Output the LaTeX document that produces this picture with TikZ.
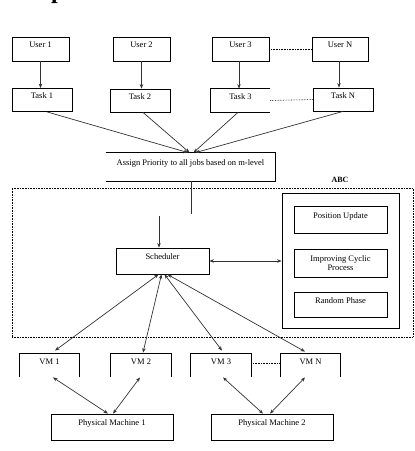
\documentclass[tikz,border=0pt]{standalone}
\usepackage{fontspec}
\setmainfont{Liberation Serif}
\usetikzlibrary{arrows.meta,calc}
\begin{document}
\begin{tikzpicture}[x=1pt,y=-1pt,
  box/.style={draw=black,line width=0.8pt,inner sep=0pt,font=\fontsize{8.5}{9.5}\selectfont,text height=6pt,text depth=9pt},
  openbox/.style={box,draw=none},
  edge/.style={draw=black!80,line width=0.7pt},
  arr/.style={edge,-{Stealth[length=4.5pt,width=3.5pt]}},
  darr/.style={edge,{Stealth[length=4.5pt,width=3.5pt]}-{Stealth[length=4.5pt,width=3.5pt]}},
  dots/.style={draw=black,line width=0.6pt,densely dotted},
]
\useasboundingbox (0,0) rectangle (415,451);

% cut-off title
\node[anchor=base west,inner sep=0pt,font=\bfseries\fontsize{24}{26}\selectfont] (title) at (14,-1.5) {Proposed Model};

% users
\node[box,minimum width=57pt,minimum height=24pt] (u1) at (40.5,49) {User 1};
\node[box,minimum width=57pt,minimum height=24pt] (u2) at (141.5,49) {User 2};
\node[box,minimum width=57pt,minimum height=24pt] (u3) at (240.5,49) {User 3};
\node[box,minimum width=56pt,minimum height=24pt] (uN) at (340,49) {User N};

% tasks
\node[box,minimum width=60pt,minimum height=23pt] (t1) at (42,100) {Task 1};
\node[box,minimum width=60pt,minimum height=23pt] (t2) at (140,100.5) {Task 2};
\node[openbox,minimum width=59pt,minimum height=23pt] (t3) at (240.5,100.5) {Task 3};
\draw[line width=0.8pt] (t3.north east) -- (t3.north west) -- (t3.south west) -- (t3.south east);
\node[box,minimum width=60pt,minimum height=23pt] (tN) at (343,99.5) {Task N};

% assign priority
\node[openbox,minimum width=169pt,minimum height=28pt] (assign) at (190.5,167) {Assign Priority to all jobs based on m-level};
\draw[line width=0.8pt] (assign.north west) -- (assign.north east) -- (assign.south east) -- (assign.south west);

% ABC region
\node[font=\bfseries\fontsize{8}{9}\selectfont,inner sep=0pt] (abclbl) at (340,180) {ABC};
\node[dots,minimum width=401pt,minimum height=149pt,inner sep=0pt] (abc) at (212.5,262.5) {};
\node[box,minimum width=117pt,minimum height=135pt] (inner) at (340.5,260.5) {};
\node[box,minimum width=93pt,minimum height=27pt] (pos) at (340.5,219.5) {Position Update};
\node[box,minimum width=93pt,minimum height=28pt,align=center,text height=,text depth=] (imp) at (340.5,263) {Improving Cyclic\\Process};
\node[box,minimum width=93pt,minimum height=25pt] (rnd) at (340.5,304.5) {Random Phase};

% scheduler
\node[box,minimum width=93pt,minimum height=26pt] (sched) at (162.5,261) {Scheduler};

% VMs
\foreach \n/\x/\w/\t in {vm1/49.5/59/VM 1, vm2/141/60/VM 2, vm3/221/60/VM 3, vmN/310.5/59/VM N}{
  \node[openbox,minimum width=\w pt,minimum height=23pt] (\n) at (\x,365.5) {\t};
  \draw[line width=0.8pt] (\n.south west) -- (\n.north west) -- (\n.north east) -- (\n.south east);
}

% physical machines
\node[box,minimum width=122pt,minimum height=26pt] (pm1) at (112,427) {Physical Machine 1};
\node[box,minimum width=122pt,minimum height=26pt] (pm2) at (272,427) {Physical Machine 2};

% users -> tasks
\draw[arr] (u1.south) -- (u1.south |- t1.north);
\draw[arr] (u2.south) -- (u2.south |- t2.north);
\draw[arr] ([xshift=-1.5pt]u3.south) -- ([xshift=-1.5pt]u3.south |- t3.north);
\draw[arr] ([xshift=-1pt]uN.south) -- ([xshift=-1pt]uN.south |- tN.north);

% dotted links
\draw[dots] (u3.east) -- (uN.west);
\draw[dots] (t3.east) -- (tN.west);
\draw[dots] ([yshift=2pt]vm3.east) -- ([yshift=2pt]vmN.west);

% tasks -> assign
\draw[arr] ([xshift=5pt]t1.south) -- ([xshift=-2.5pt]assign.north);
\draw[arr] ([xshift=3pt]t2.south) -- ([xshift=-1pt]assign.north);
\draw[arr] ([xshift=-2.5pt]t3.south) -- ([xshift=3pt]assign.north);
\draw[arr] (tN.south) -- ([xshift=5pt]assign.north);

% assign -> scheduler (broken line)
\coordinate (a1) at (191,214);
\coordinate (a2) at (159,216);
\draw[edge] ([xshift=0.5pt]assign.south) -- (a1);
\draw[arr] (a2) -- ([xshift=-3.5pt]sched.north);

% scheduler <-> ABC
\draw[darr] (sched.east) -- (sched.east -| inner.west);

% scheduler <-> VMs
\draw[darr] ([xshift=-4pt]sched.south) -- ([xshift=5.5pt,yshift=3pt]vm1.north);
\draw[darr] ([xshift=-1pt]sched.south) -- ([xshift=2pt,yshift=1pt]vm2.north);
\draw[darr] ([xshift=2pt]sched.south) -- ([xshift=1pt,yshift=3pt]vm3.north);
\draw[darr] ([xshift=5pt]sched.south) -- ([xshift=-5.5pt,yshift=2pt]vmN.north);

% VMs <-> physical machines
\draw[darr] ([xshift=3.5pt]vm1.south) -- ([xshift=-4pt]pm1.north);
\draw[darr] ([xshift=-1pt]vm2.south) -- ([xshift=1pt]pm1.north);
\draw[darr] ([xshift=2pt]vm3.south) -- ([xshift=-9pt]pm2.north);
\draw[darr] ([xshift=-5.5pt]vmN.south) -- ([xshift=-2pt]pm2.north);
\end{tikzpicture}
\end{document}
